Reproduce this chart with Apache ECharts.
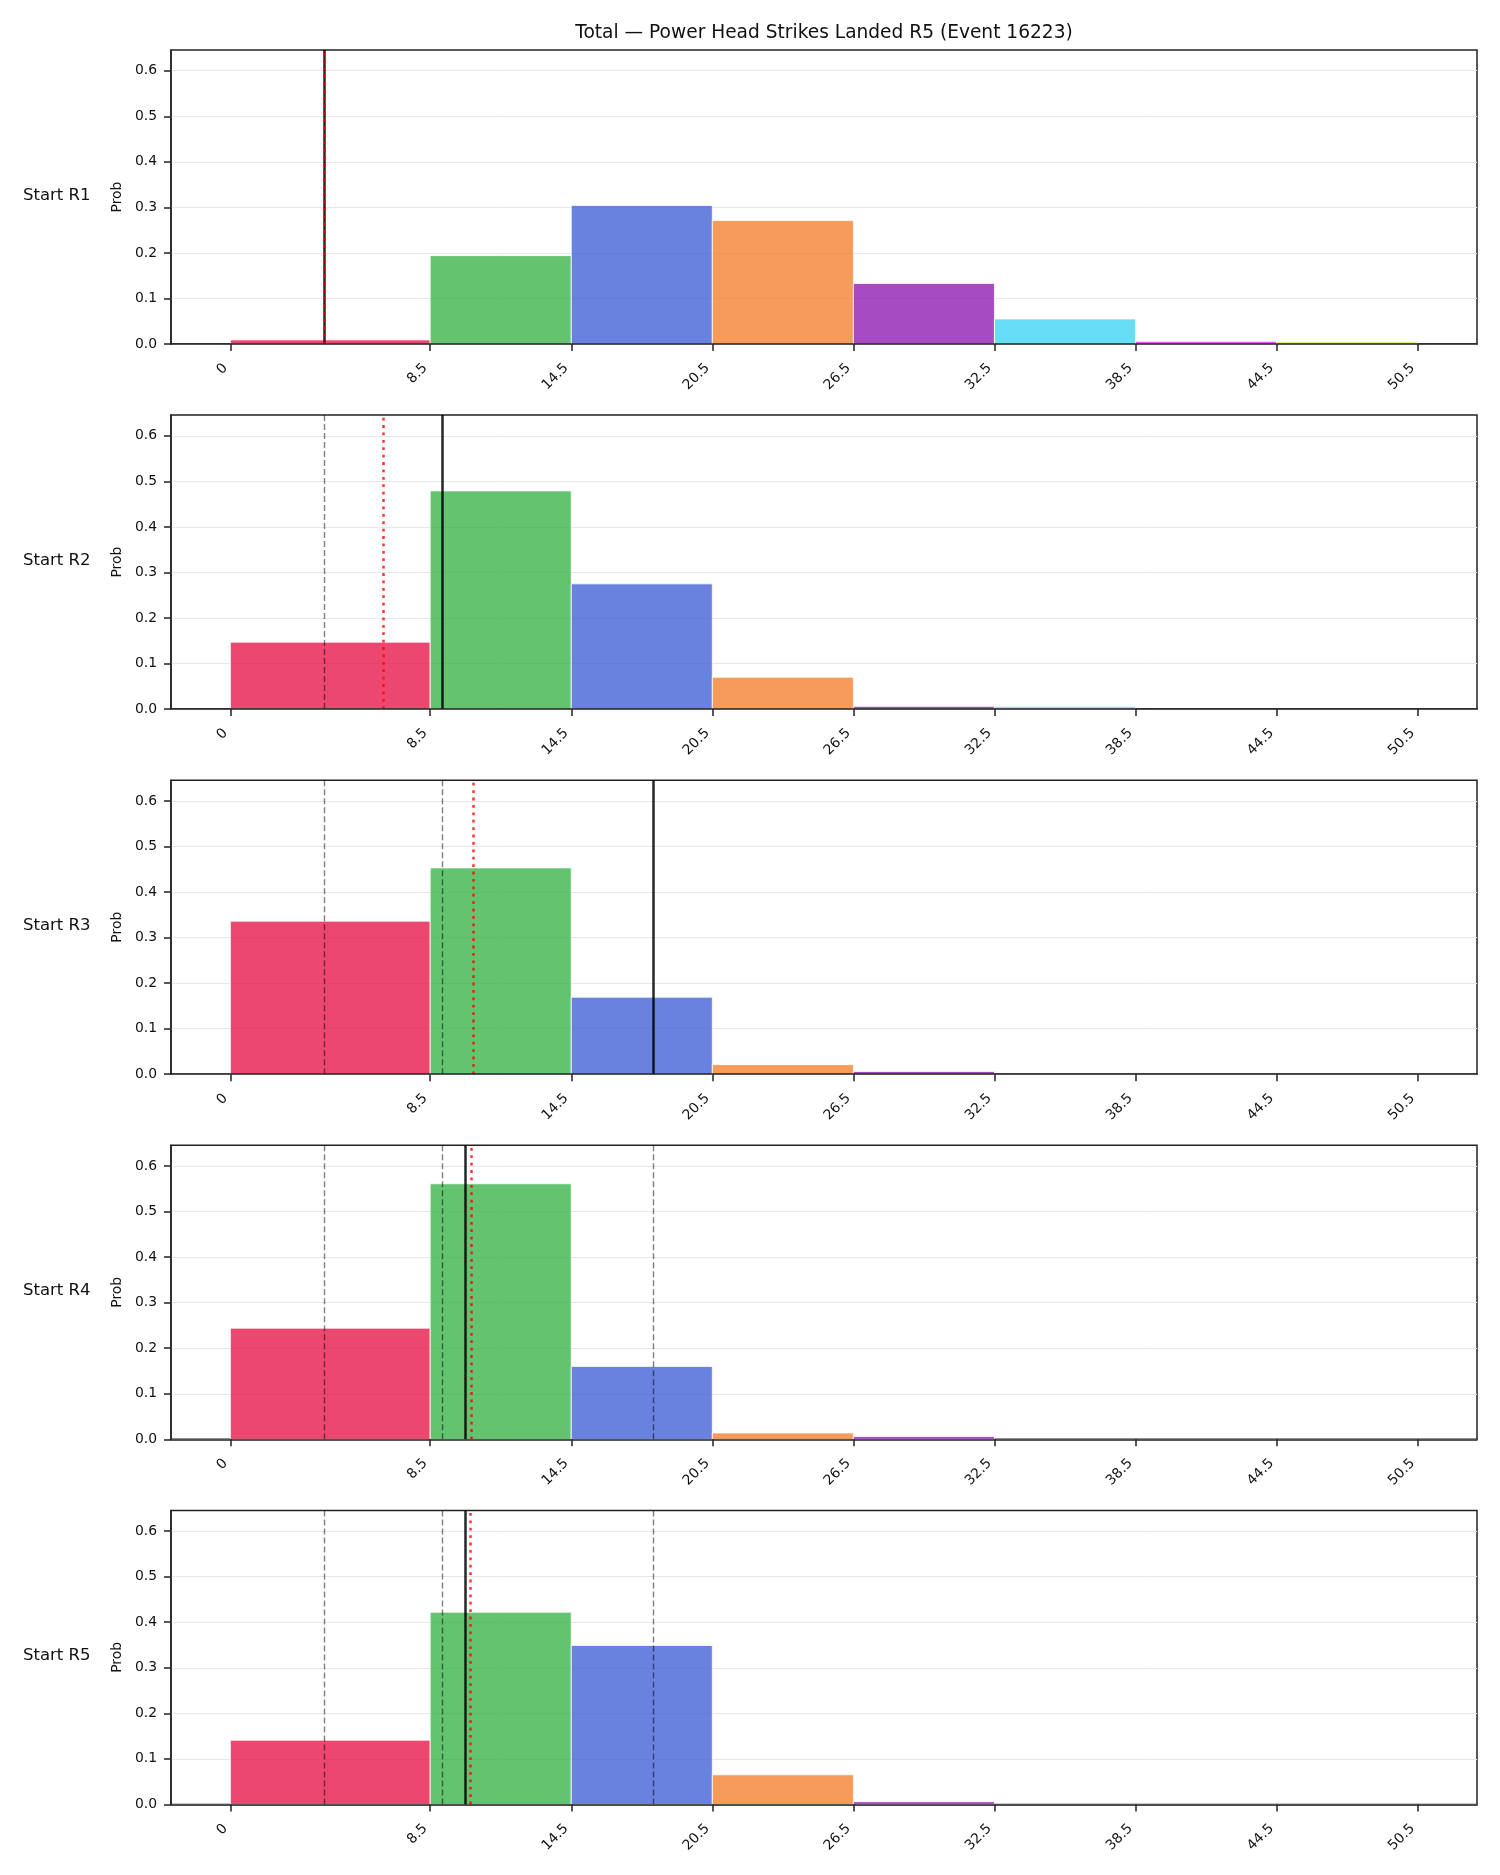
<!DOCTYPE html>
<html>
<head>
<meta charset="utf-8">
<script src="https://cdn.jsdelivr.net/npm/echarts@6/dist/echarts.min.js"></script>
<style>
html,body{margin:0;padding:0;background:#fff;}
#chart{width:1500px;height:1875px;}
</style>
</head>
<body>
<div id="chart"></div>
<script>
// ---- data ----
const chartTitle = 'Total \u2014 Power Head Strikes Landed R5 (Event 16223)';
const rowLabels = ['Start R1', 'Start R2', 'Start R3', 'Start R4', 'Start R5'];
const binEdges = [0, 8.5, 14.5, 20.5, 26.5, 32.5, 38.5, 44.5, 50.5];
const yTicks = [0, 0.1, 0.2, 0.3, 0.4, 0.5, 0.6];
const probR1 = [0.009, 0.194, 0.304, 0.271, 0.133, 0.055, 0.006, 0.005];
const probR2 = [0.147, 0.479, 0.275, 0.070, 0.006, 0.005, 0, 0];
const probR3 = [0.336, 0.453, 0.169, 0.021, 0.006, 0, 0, 0];
const probR4 = [0.244, 0.561, 0.160, 0.014, 0.006, 0, 0, 0];
const probR5 = [0.141, 0.422, 0.349, 0.065, 0.006, 0, 0, 0];
const dashedR1 = [];
const dashedR2 = [4.0];
const dashedR3 = [4.0, 9.0];
const dashedR4 = [4.0, 9.0, 18.0];
const dashedR5 = [4.0, 9.0, 18.0];
const solidLines = [4.0, 9.0, 18.0, 10.0, 10.0];
const dottedLines = [4.0, 6.5, 10.35, 10.25, 10.2];
const yMax = 0.6455;

// ---- styles ----
const binColors = ['#e6194b', '#3cb44b', '#4363d8', '#f58231', '#911eb4', '#42d4f4', '#f032e6', '#bfef45'];
const FONT = 'DejaVu Sans';

const probs = [probR1, probR2, probR3, probR4, probR5];
const dashed = [dashedR1, dashedR2, dashedR3, dashedR4, dashedR5];

const W = 1500;
const gridLeft = 171, gridRight = 23, gridTop0 = 50, gridStep = 365.1, gridH = 294;
const plotW = W - gridLeft - gridRight;

const grids = [], xAxes = [], yAxes = [], series = [], graphics = [];

probs.forEach((p, i) => {
  const top = gridTop0 + gridStep * i;
  grids.push({
    left: gridLeft, right: gridRight, top: top, height: gridH,
    show: true, borderColor: '#222', borderWidth: 1.5, backgroundColor: 'transparent'
  });
  xAxes.push({
    type: 'value', gridIndex: i, min: -2.525, max: 53.025, z: 5,
    axisLine: { show: true, onZero: false, lineStyle: { color: '#222', width: 1.5 } },
    axisTick: { show: true, length: 7, inside: false, customValues: binEdges, lineStyle: { color: '#222', width: 1.5 } },
    axisLabel: { show: true, rotate: 45, margin: 17, padding: [0, 7, 0, 0], customValues: binEdges, color: '#111',
      fontFamily: FONT, fontSize: 13.9, formatter: v => String(v) },
    splitLine: { show: false }
  });
  yAxes.push({
    type: 'value', gridIndex: i, min: 0, max: yMax, interval: 0.1,
    name: 'Prob', nameLocation: 'middle', nameGap: 47,
    nameTextStyle: { fontFamily: FONT, fontSize: 13.9, color: '#111' },
    axisLine: { show: true, onZero: false, lineStyle: { color: '#222', width: 1.5 } },
    axisTick: { show: true, length: 7, customValues: yTicks, lineStyle: { color: '#222', width: 1.5 } },
    axisLabel: { show: true, margin: 14, customValues: yTicks, color: '#111',
      fontFamily: FONT, fontSize: 13.9, formatter: v => v.toFixed(1) },
    splitLine: { show: true, lineStyle: { color: '#e6e6e6', width: 1 } }
  });

  const barData = [];
  p.forEach((v, k) => {
    if (v > 0) barData.push([binEdges[k], binEdges[k + 1], v, k]);
  });
  series.push({
    type: 'custom', xAxisIndex: i, yAxisIndex: i, z: 2,
    encode: { x: [0, 1], y: 2 },
    data: barData,
    silent: true, animation: false,
    renderItem: (params, api) => {
      const a = api.coord([api.value(0), 0]);
      const b = api.coord([api.value(1), api.value(2)]);
      return {
        type: 'rect',
        shape: { x: a[0], y: b[1], width: b[0] - a[0], height: a[1] - b[1] },
        style: { fill: binColors[api.value(3)], opacity: 0.8, stroke: '#ffffff', lineWidth: 1 }
      };
    }
  });

  const mk = (vals, style, z) => ({
    type: 'line', xAxisIndex: i, yAxisIndex: i, data: [], z: z, silent: true, animation: false,
    markLine: {
      silent: true, animation: false, symbol: ['none', 'none'], label: { show: false },
      lineStyle: style,
      emphasis: { disabled: true },
      data: vals.map(v => ({ xAxis: v }))
    }
  });
  series.push(mk(dashed[i], { color: 'rgba(0,0,0,0.5)', width: 1.4, type: [6, 3] }, 3));
  series.push(mk([solidLines[i]], { color: 'rgba(0,0,0,0.85)', width: 2.5, type: 'solid' }, 4));
  series.push(mk([dottedLines[i]], { color: 'rgba(255,0,0,0.8)', width: 2.5, type: [2.8, 4.6] }, 5));

  graphics.push({
    type: 'text', left: 23, top: top + gridH / 2 - 10,
    style: { text: rowLabels[i], font: '16.5px "' + FONT + '"', fill: '#111', textVerticalAlign: 'top' }
  });
});

graphics.push({
  type: 'text', x: gridLeft + plotW / 2, y: 33,
  style: { text: chartTitle, font: '18.6px "' + FONT + '"', fill: '#111', textAlign: 'center', textVerticalAlign: 'middle' }
});

const chart = echarts.init(document.getElementById('chart'), null, { renderer: 'canvas' });
chart.setOption({
  animation: false,
  backgroundColor: '#ffffff',
  grid: grids, xAxis: xAxes, yAxis: yAxes, series: series, graphic: graphics
});
</script>
</body>
</html>
